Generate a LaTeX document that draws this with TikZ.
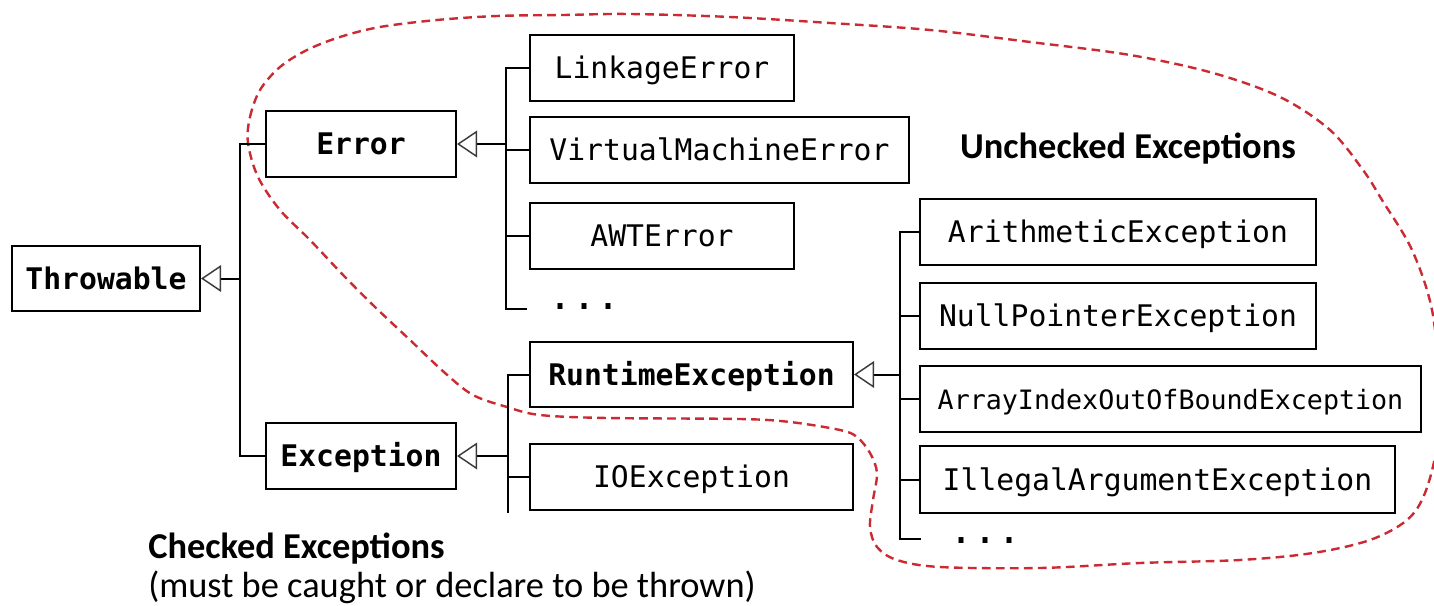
\documentclass[tikz,border=0pt]{standalone}
\usepackage{fontspec}
\usetikzlibrary{arrows.meta}
\newfontfamily\boxfont{DejaVu Sans Mono}
\newfontfamily\notefont{Carlito}
\definecolor{zonered}{RGB}{204,42,50}
\definecolor{tipgray}{RGB}{60,60,60}

\begin{document}
\begin{tikzpicture}[x=0.75pt,y=-0.75pt,
  cls/.style={draw, fill=white, line width=1.5pt, inner sep=0pt,
    minimum height=66*0.75pt, text height=16.3pt, text depth=0pt,
    font=\boxfont\fontsize{22.3}{26}\selectfont},
  parentcls/.style={cls, font=\boxfont\bfseries\fontsize{22.3}{26}\selectfont},
  bw/.style={minimum width=#1*0.75pt},
  conn/.style={line width=1.5pt},
  inh/.style={conn, -{Triangle[open, length=15pt, width=20pt, line width=1.1pt, color=tipgray]}},
  dotsnode/.style={inner sep=0pt, anchor=base west,
    font=\boxfont\fontsize{30}{32}\selectfont},
  zone/.style={draw=zonered, line width=1.8pt, dash pattern=on 6.5pt off 4pt},
  note/.style={inner sep=0pt, font=\notefont\fontsize{27.3}{30}\selectfont},
  notebold/.style={inner sep=0pt, font=\notefont\bfseries\fontsize{27.3}{30}\selectfont}
]
\useasboundingbox[fill=white] (0,0) rectangle (1434,606);

% region of unchecked exceptions
\draw[zone] plot[smooth cycle, tension=0.55] coordinates {
  (248,143) (250,117) (260,90) (280,67) (307,50) (340,37) (380,27) (437,20)
  (497,16) (563,15) (630,14) (730,17) (830,23) (930,30) (1030,42) (1130,55)
  (1213,73) (1280,97) (1330,130) (1363,170) (1382,200) (1412,250) (1432,310)
  (1439,385) (1437,445) (1425,493) (1407,520) (1370,540) (1313,553) (1240,560)
  (1140,563) (1040,568) (940,567) (897,560) (877,547) (870,527) (873,500)
  (877,473) (870,453) (857,437) (840,430) (790,422) (740,419) (607,418)
  (540,415) (507,407) (473,395) (445,373) (410,340) (375,307) (345,277)
  (310,240) (280,210) (258,177)};

% classes
\node[parentcls, bw=188, minimum height=65*0.75pt] (throwable) at (106,278.5) {Throwable};
\node[parentcls, bw=190] (error) at (361,144) {Error};
\node[parentcls, bw=190] (exception) at (361,456) {Exception};
\node[cls, bw=264] (linkage) at (662,68) {LinkageError};
\node[cls, bw=379] (vme) at (719.5,150) {VirtualMachineError};
\node[cls, bw=264] (awt) at (662,236) {AWTError};
\node[parentcls, bw=323, minimum height=65*0.75pt] (runtime) at (691.5,374.5) {RuntimeException};
\node[cls, bw=323] (io) at (691.5,477) {IOException};
\node[cls, bw=396] (arith) at (1118,232) {ArithmeticException};
\node[cls, bw=396] (npe) at (1118,316) {NullPointerException};
\node[cls, bw=501, font=\boxfont\fontsize{20}{24}\selectfont] (aioobe) at (1170.5,398.5) {ArrayIndexOutOfBoundException};
\node[cls, bw=475, minimum height=67*0.75pt] (iae) at (1157.5,479.5) {IllegalArgumentException};
\node[dotsnode] (moreerr) at (548,309) {...};
\node[dotsnode] (morert) at (949,543) {...};

% trunk positions and free ends
\coordinate (t1) at (240,0);
\coordinate (t2) at (506,0);
\coordinate (t4) at (900,0);
\coordinate (e1) at (527,309);
\coordinate (e2) at (508,513);
\coordinate (e3) at (921,539);

% Throwable subclasses
\draw[conn] (error.west) -| (t1 |- exception.west) -- (exception.west);
\draw[inh] (t1 |- throwable.east) -- (throwable.east);

% Error subclasses
\draw[conn] (linkage.west) -| (t2 |- e1) -- (e1);
\draw[conn] (t2 |- vme.west) -- (vme.west);
\draw[conn] (t2 |- awt.west) -- (awt.west);
\draw[inh] (t2 |- error.east) -- (error.east);

% Exception subclasses
\draw[conn] (runtime.west) -| (e2);
\draw[conn] (e2 |- io.west) -- (io.west);
\draw[inh] (e2 |- exception.east) -- (exception.east);

% RuntimeException subclasses
\draw[conn] (arith.west) -| (t4 |- e3) -- (e3);
\draw[conn] (t4 |- npe.west) -- (npe.west);
\draw[conn] (t4 |- aioobe.west) -- (aioobe.west);
\draw[conn] (t4 |- iae.west) -- (iae.west);
\draw[inh] (t4 |- runtime.east) -- (runtime.east);

% captions
\node[notebold, anchor=base] (unchecked) at (1128,159) {Unchecked Exceptions};
\node[notebold, anchor=base west] (checked) at (148,558) {Checked Exceptions};
\node[note, anchor=base west] (checkednote) at (148,597) {(must be caught or declare to be thrown)};
\end{tikzpicture}
\end{document}
